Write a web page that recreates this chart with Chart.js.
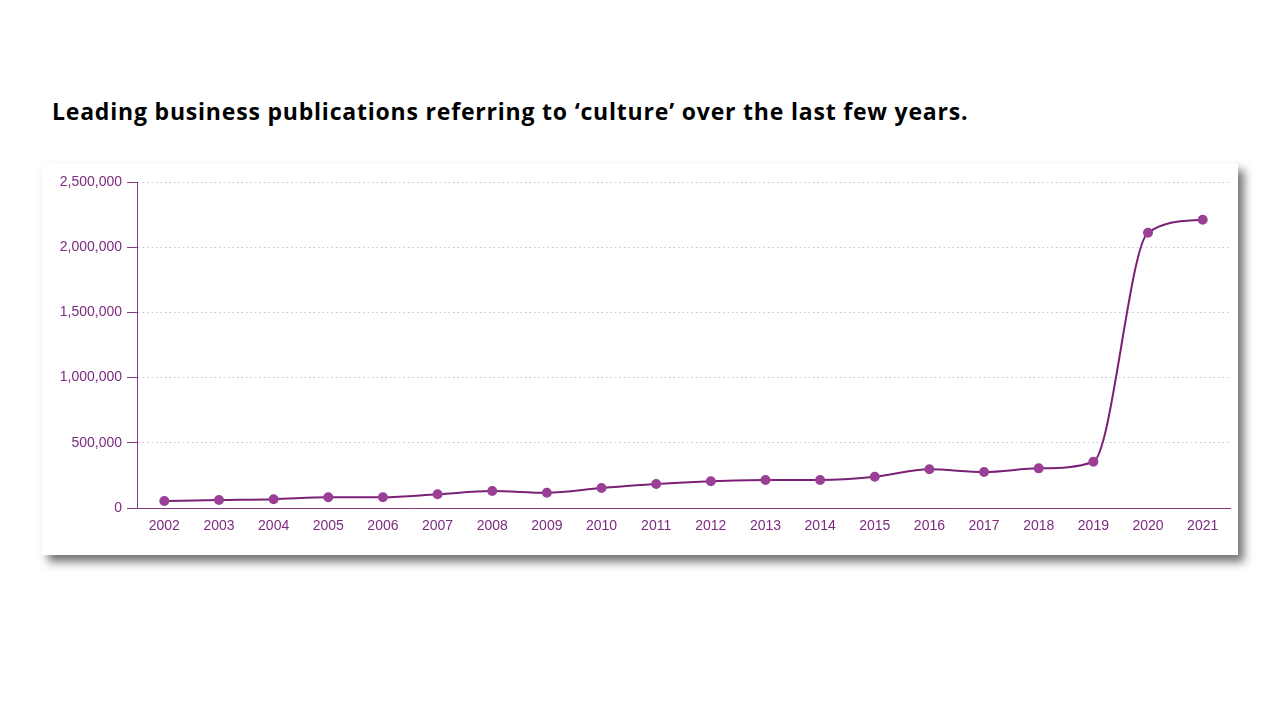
<!DOCTYPE html>
<html>
<head>
<meta charset="utf-8">
<script src="https://cdn.jsdelivr.net/npm/chart.js@4/dist/chart.umd.min.js"></script>
<style>
  html, body { margin: 0; padding: 0; background: #fff; width: 1280px; height: 720px; overflow: hidden; }
  #title { position: absolute; left: 52px; top: 95px; font-family: "Open Sans", sans-serif; font-weight: 700; font-size: 23px; color: #000; white-space: nowrap; letter-spacing: 0.8px; }
  #card { position: absolute; left: 42px; top: 163px; width: 1196px; height: 392px; background: #fff; box-shadow: 6px 7px 9px rgba(0,0,0,0.55); }
  #card canvas { position: absolute; left: 0; top: 0; }
</style>
</head>
<body>
<div id="title">Leading business publications referring to ‘culture’ over the last few years.</div>
<div id="card"><canvas id="c" width="1196" height="392"></canvas></div>
<script>
const years = ["2002","2003","2004","2005","2006","2007","2008","2009","2010","2011","2012","2013","2014","2015","2016","2017","2018","2019","2020","2021"];
const publications = [54000, 61000, 67000, 82000, 82000, 105000, 130000, 117000, 153000, 184000, 205000, 215000, 215000, 240000, 297000, 276000, 304000, 355000, 2111000, 2211000];
const yMax = 2500000;
const yStep = 500000;

const purple = '#8a3a88';
const tickColor = '#7b2a7e';

new Chart(document.getElementById('c'), {
  type: 'line',
  data: {
    labels: years,
    datasets: [{
      data: publications,
      borderColor: '#7a2175',
      borderWidth: 2,
      backgroundColor: '#9a3f96',
      pointBackgroundColor: '#9a3f96',
      pointBorderColor: '#9a3f96',
      pointRadius: 4,
      cubicInterpolationMode: 'monotone',
      fill: false
    }]
  },
  options: {
    responsive: false,
    animation: false,
    plugins: { legend: { display: false }, tooltip: { enabled: false } },
    layout: { padding: { left: 0, right: 8, top: 19, bottom: 0 } },
    scales: {
      x: {
        offset: true,
        grid: { display: false, drawTicks: false },
        border: { display: true, color: purple, width: 1 },
        ticks: { color: tickColor, font: { family: 'Liberation Sans, Arial, sans-serif', size: 14 }, padding: 10, maxRotation: 0 },
        afterFit: s => { s.height = 47; }
      },
      y: {
        min: 0,
        max: yMax,
        grid: { color: '#cdbfcd', lineWidth: 1, tickColor: purple, tickLength: 10, drawTicks: true },
        border: { display: true, color: purple, width: 1, dash: [1.5, 3] },
        ticks: { stepSize: yStep, color: tickColor, font: { family: 'Liberation Sans, Arial, sans-serif', size: 14 }, padding: 5,
          callback: v => v.toLocaleString('en-US') },
        afterFit: s => { s.width = 95; }
      }
    }
  }
});
</script>
</body>
</html>
